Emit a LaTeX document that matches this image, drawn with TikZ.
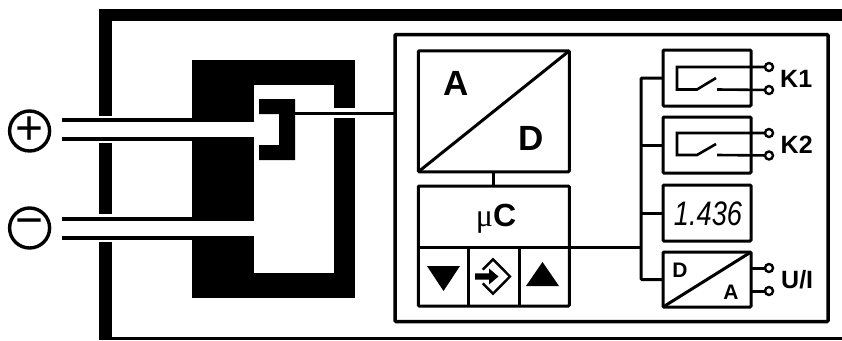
\documentclass[tikz,border=0pt]{standalone}
\usepackage{fontspec}
\setmainfont{Liberation Sans}
\newfontfamily\serifmu{Liberation Serif}
\begin{document}
\begin{tikzpicture}[x=1pt, y=-1pt, line join=miter,
  unit/.style={draw, line width=3pt, rounded corners=1pt, outer sep=0pt, inner sep=0pt, minimum width=#1},
  lead/.style={line width=4pt},
  wire/.style={line width=3pt},
  thin wire/.style={line width=2.6pt},
  term/.style={circle, draw, line width=2.4pt, fill=white, minimum size=8pt, inner sep=0pt, outer sep=0pt},
  sign/.style={circle, draw, line width=3.4pt, minimum size=40pt, inner sep=0pt, font=\fontsize{48}{48}\selectfont},
  big/.style={font=\bfseries\fontsize{35}{35}\selectfont, inner sep=0pt},
  tag/.style={font=\bfseries\fontsize{25}{25}\selectfont, inner sep=0pt, anchor=west},
  small/.style={font=\bfseries\fontsize{21}{21}\selectfont, inner sep=0pt}]
  \useasboundingbox (0,0) rectangle (842,340);

  % housing
  \fill (99,9) rectangle (842,21);
  \fill (99,9) rectangle (112,340);
  \fill (99,337) rectangle (842,340);
  \fill[white] (99,116) rectangle (112,143);
  \fill[white] (99,214) rectangle (112,242);

  % core
  \fill (192,60) rectangle (355,298);
  \fill[white] (254,85) rectangle (334,273);
  \fill[white] (192,122) rectangle (254,137);
  \fill[white] (192,220.5) rectangle (254,236);
  \fill[white] (334,108) rectangle (355,118);

  % sensor
  \fill (259,99) -- (295,99) -- (295,160) -- (259,160) -- (259,145) -- (279,145) -- (279,114) -- (259,114) -- cycle;
  \coordinate (sensor) at (295,113.5);

  % leads
  \draw[lead] (62,120) -- (192,120);
  \draw[lead] (62,139) -- (192,139);
  \draw[lead] (62,218.5) -- (192,218.5);
  \draw[lead] (62,238) -- (192,238);
  \node[sign] (plus) at (29.6,131) {+};
  \node[sign] (minus) at (29.6,228) {−};

  % electronics
  \node[unit=433pt, minimum height=287pt, line width=3.5pt] (panel) at (611.5,178) {};
  \node[unit=151pt, minimum height=121pt] (adc) at (493.8,111.3) {};
  \node[unit=151pt, minimum height=120pt] (mcu) at (493.8,246) {};
  \draw[wire] (adc.south west) -- (adc.north east);
  \node[big] (adcA) at (456,83) {A};
  \node[big] (adcD) at (531,138) {D};
  \node[inner sep=0pt] (mcuname) at (496,219) {\fontsize{32}{32}\selectfont\serifmu μ\bfseries\rmfamily C};
  \draw[wire] (adc.south -| mcu.north) -- (mcu.north);
  \draw[wire] (sensor) -- (sensor -| panel.west);

  % keys
  \coordinate (keyline) at (mcu.west |- 247,247);
  \draw[wire] (418,247) -- (569,247);
  \draw[wire] (468,247) -- (468,306);
  \draw[wire] (519,247) -- (519,306);
  \fill (427,266) -- (460,266) -- (443.5,291) -- cycle;
  \fill (526,286) -- (559,286) -- (542.5,262) -- cycle;
  \draw[line width=2.4pt] (482.7,269.7) -- (493,259.3) -- (510,276.5) -- (493,293.7) -- (482.7,283.3);
  \fill (475,273.3) -- (489,273.3) -- (489,268.5) -- (498.5,276.5) -- (489,284.5) -- (489,279.7) -- (475,279.7) -- cycle;

  % outputs
  \node[unit=88pt, minimum height=56pt] (k1) at (707,78) {};
  \node[unit=88pt, minimum height=56pt] (k2) at (707,145) {};
  \node[unit=88pt, minimum height=56pt] (disp) at (707,213) {};
  \node[unit=88pt, minimum height=55pt] (dac) at (707,279.5) {};
  \coordinate (bus) at (641,247);
  \draw[wire] (mcu.east |- bus) -- (bus);
  \draw[wire, rounded corners=1pt] (k1.west) -| (bus |- dac.west) -- (dac.west);
  \draw[wire] (k2.west) -- (bus |- k2.west);
  \draw[wire] (disp.west) -- (bus |- disp.west);

  % relay 1
  \node[term] (k1a) at (769,67) {};
  \node[term] (k1b) at (769,90) {};
  \draw[thin wire] (k1a) -- (677,67) -- (677,89.5) -- (697,89.5) -- (716,78);
  \draw[thin wire] (k1b) -- (717,89.5);
  \node[tag] (k1name) at (780,79) {K1};

  % relay 2
  \node[term] (k2a) at (769,133) {};
  \node[term] (k2b) at (769,155.5) {};
  \draw[thin wire] (k2a) -- (677,133) -- (677,155) -- (697,155) -- (716,144);
  \draw[thin wire] (k2b) -- (717,155);
  \node[tag] (k2name) at (780.5,145) {K2};

  % display
  \node[inner sep=0pt, xscale=0.8, transform shape, font=\itshape\fontsize{34}{34}\selectfont] (dispval) at (708,214) {1.436};

  % analog output
  \draw[wire] (dac.south west) -- (dac.north east);
  \node[small] (dacD) at (680,270) {D};
  \node[small] (dacA) at (731,292.5) {A};
  \node[term] (dacp) at (769,268) {};
  \node[term] (dacm) at (769,291) {};
  \draw[wire] (dacp) -- (dacp -| dac.east);
  \draw[wire] (dacm) -- (dacm -| dac.east);
  \node[tag] (dacname) at (781,280) {U/I};
\end{tikzpicture}
\end{document}
